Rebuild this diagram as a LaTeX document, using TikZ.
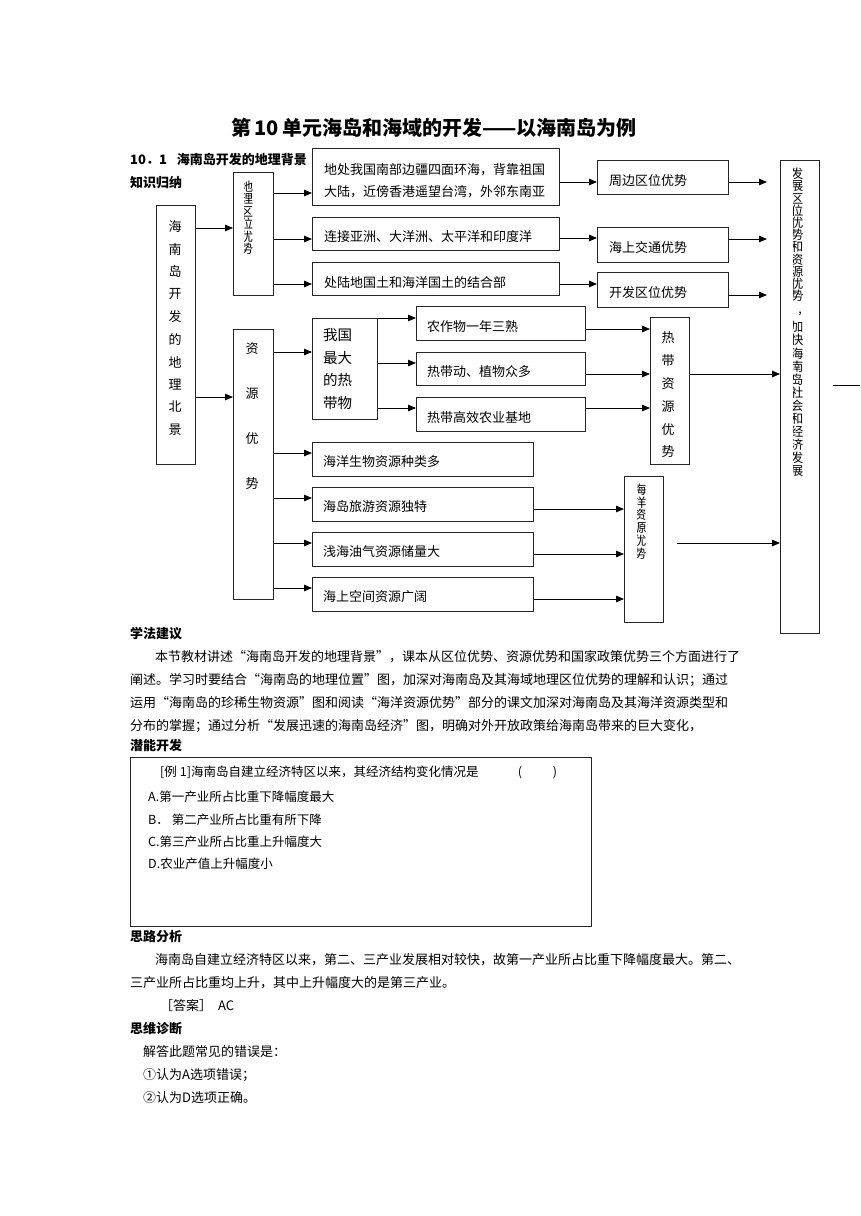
\documentclass[tikz,border=0pt]{standalone}
\usepackage{fontspec}
\setmainfont{Noto Sans CJK SC}
\usetikzlibrary{arrows.meta}
\begin{document}
\begin{tikzpicture}[x=1pt,y=-1pt,
  bx/.style={draw=black!85, line width=0.8pt, inner sep=0pt, anchor=north west},
  arr/.style={draw=black, line width=0.8pt, -{Triangle[length=8pt,width=6.5pt]}},
  ln/.style={draw=black, line width=0.8pt},
  tx/.style={font=\fontsize{13}{13}\selectfont, inner sep=0pt, anchor=west},
  hd/.style={font=\fontsize{13}{13}\selectfont\bfseries, inner sep=0pt, anchor=west},
  vc/.style={font=\fontsize{13}{13}\selectfont, inner sep=0pt},
  vs/.style={font=\fontsize{12.5}{12.5}\selectfont, inner sep=0pt},
]
\useasboundingbox (0,0) rectangle (860,1216);
\fill[white] (0,0) rectangle (860,1216);

% title and headings
\node[font=\fontsize{20}{20}\selectfont\bfseries, inner sep=0pt] (title) at (434,128) {第\hspace{3pt}10\hspace{3pt}单元海岛和海域的开发——以海南岛为例};
\node[hd] (h1) at (130,160) {10．1\hspace{10pt}海南岛开发的地理背景};
\node[hd] (h2) at (130,183) {知识归纳};

% boxes
\node[bx, minimum width=39pt, minimum height=259pt] (A) at (156,205) {};
\node[bx, minimum width=40pt, minimum height=123pt] (B) at (233,172) {};
\node[bx, minimum width=247pt, minimum height=57pt] (C1) at (312,148) {};
\node[bx, minimum width=247pt, minimum height=33pt] (C2) at (312,217) {};
\node[bx, minimum width=247pt, minimum height=33pt] (C3) at (312,262) {};
\node[bx, minimum width=131pt, minimum height=34pt] (D1) at (597,160) {};
\node[bx, minimum width=131pt, minimum height=35pt] (D2) at (597,227) {};
\node[bx, minimum width=131pt, minimum height=35pt] (D3) at (597,272) {};
\node[bx, minimum width=39pt, minimum height=473pt] (E) at (780,160) {};
\node[bx, minimum width=40pt, minimum height=270pt] (F) at (233,329) {};
\node[bx, minimum width=65pt, minimum height=101pt] (G) at (312,318) {};
\node[bx, minimum width=169pt, minimum height=34pt] (H1) at (416,306) {};
\node[bx, minimum width=169pt, minimum height=33pt] (H2) at (416,352) {};
\node[bx, minimum width=169pt, minimum height=34pt] (H3) at (416,397) {};
\node[bx, minimum width=39pt, minimum height=147pt] (I) at (650,317) {};
\node[bx, minimum width=221pt, minimum height=34pt] (J1) at (312,442) {};
\node[bx, minimum width=221pt, minimum height=34pt] (J2) at (312,487) {};
\node[bx, minimum width=221pt, minimum height=34pt] (J3) at (312,532) {};
\node[bx, minimum width=221pt, minimum height=34pt] (J4) at (312,577) {};
\node[bx, minimum width=39pt, minimum height=146pt] (K) at (624,476) {};
\node[bx, line width=1.2pt, minimum width=461pt, minimum height=169pt] (L) at (130,757) {};

% vertical texts
\foreach \c [count=\i from 0] in {海,南,岛,开,发,的,地,理,北,景}
  \node[vc] (a\i) at (175,227+22.5*\i) {\c};
\foreach \c [count=\i from 0] in {资,源,优,势}
  \node[vc] (f\i) at (252,349+45*\i) {\c};
\foreach \c [count=\i from 0] in {热,带,资,源,优,势}
  \node[vc] (i\i) at (668,338+22.8*\i) {\c};
\begin{scope}
  \clip (244.5,175) rectangle (272,293);
  \foreach \c [count=\i from 0] in {地,理,区,位,优,势}
    \node[vs] (b\i) at (246.8,186.5+12.5*\i) {\c};
\end{scope}
\begin{scope}
  \clip (637,479) rectangle (662,620);
  \foreach \c [count=\i from 0] in {海,洋,资,源,优,势}
    \node[vs] (k\i) at (640,489.5+12.8*\i) {\c};
\end{scope}
\begin{scope}
  \clip (793.5,162) rectangle (818,630);
  \foreach \c [count=\i from 0] in {发,展,区,位,优,势,和,资,源,优,势}
    \node[vs] (e\i) at (797,174+12.2*\i) {\c};
  \foreach \c [count=\i from 0] in {加,快,海,南,岛,社,会,和,经,济,发,展}
    \node[vs] (ee\i) at (797,327+13.1*\i) {\c};
\end{scope}
\node[vs] (ecomma) at (800,314) {,};

% box texts
\node[tx] (c1a) at (324,170) {地处我国南部边疆四面环海，背靠祖国};
\node[tx] (c1b) at (324,192) {大陆，近傍香港遥望台湾，外邻东南亚};
\node[tx] (c2t) at (324,237) {连接亚洲、大洋洲、太平洋和印度洋};
\node[tx] (c3t) at (324,283) {处陆地国土和海洋国土的结合部};
\node[tx] (d1t) at (609,181) {周边区位优势};
\node[tx] (d2t) at (609,248) {海上交通优势};
\node[tx] (d3t) at (609,293) {开发区位优势};
\node[tx] (h1t) at (427,327) {农作物一年三熟};
\node[tx] (h2t) at (427,372) {热带动、植物众多};
\node[tx] (h3t) at (427,418) {热带高效农业基地};
\node[tx] (j1t) at (323,462) {海洋生物资源种类多};
\node[tx] (j2t) at (323,507) {海岛旅游资源独特};
\node[tx] (j3t) at (323,552) {浅海油气资源储量大};
\node[tx] (j4t) at (323,597) {海上空间资源广阔};
\foreach \s [count=\i from 0] in {我国,最大,的热,带物}
  \node[tx, font=\fontsize{14.5}{14.5}\selectfont] (g\i) at (323,335+22.5*\i) {\s};

% connectors
\draw[arr] (A.east |- 0,228) -- (B.west |- 0,228);
\draw[arr] (A.east |- 0,397) -- (F.west |- 0,397);
\draw[arr] (B.east |- 0,193) -- (C1.west |- 0,193);
\draw[arr] (B.east |- 0,239) -- (C2.west |- 0,239);
\draw[arr] (B.east |- 0,284) -- (C3.west |- 0,284);
\draw[arr] (C1.east |- 0,182) -- (D1.west |- 0,182);
\draw[arr] (C2.east |- 0,238) -- (D2.west |- 0,238);
\draw[arr] (C3.east |- 0,284) -- (D3.west |- 0,284);
\draw[arr, shorten >=13pt] (D1.east |- 0,182) -- (E.west |- 0,182);
\draw[arr, shorten >=13pt] (D2.east |- 0,239) -- (E.west |- 0,239);
\draw[arr, shorten >=13pt] (D3.east |- 0,295) -- (E.west |- 0,295);
\draw[arr] (F.east |- 0,352) -- (G.west |- 0,352);
\draw[arr] (F.east |- 0,453) -- (J1.west |- 0,453);
\draw[arr] (F.east |- 0,498) -- (J2.west |- 0,498);
\draw[arr] (F.east |- 0,543) -- (J3.west |- 0,543);
\draw[arr] (F.east |- 0,588) -- (J4.west |- 0,588);
\draw[arr] (G.north east) -- (H1.west |- G.north east);
\draw[arr] (G.east |- 0,363) -- (H2.west |- 0,363);
\draw[arr] (G.east |- 0,408) -- (H3.west |- 0,408);
\draw[arr] (H1.east |- 0,329) -- (I.west |- 0,329);
\draw[arr] (H2.east |- 0,374) -- (I.west |- 0,374);
\draw[arr] (H3.east |- 0,408) -- (I.west |- 0,408);
\draw[arr] (I.east |- 0,374) -- (E.west |- 0,374);
\draw[arr] (J2.east |- 0,509) -- (K.west |- 0,509);
\draw[arr] (J3.east |- 0,554) -- (K.west |- 0,554);
\draw[arr] (J4.east |- 0,599) -- (K.west |- 0,599);
\draw[arr, shorten <=13pt] (K.east |- 0,543) -- (E.west |- 0,543);
\coordinate (rr) at (860,385);
\draw[ln, shorten <=13pt] (E.east |- rr) -- (rr);

% text section
\node[hd] (s1) at (130,634) {学法建议};
\node[tx] (p1) at (155,657) {本节教材讲述“海南岛开发的地理背景”，课本从区位优势、资源优势和国家政策优势三个方面进行了};
\node[tx] (p2) at (130,680) {阐述。学习时要结合“海南岛的地理位置”图，加深对海南岛及其海域地理区位优势的理解和认识；通过};
\node[tx] (p3) at (130,703) {运用“海南岛的珍稀生物资源”图和阅读“海洋资源优势”部分的课文加深对海南岛及其海洋资源类型和};
\node[tx] (p4) at (130,726) {分布的掌握；通过分析“发展迅速的海南岛经济”图，明确对外开放政策给海南岛带来的巨大变化，};
\node[hd] (s2) at (130,746) {潜能开发};
\node[tx, font=\fontsize{12.5}{12.5}\selectfont] (q0) at (160,772) {\hbox to 397pt{[例\hspace{3pt}1]海南岛自建立经济特区以来，其经济结构变化情况是\hfill(\hspace{31pt})}};
\node[tx, font=\fontsize{12.5}{12.5}\selectfont] (qa) at (148,797) {A.第一产业所占比重下降幅度最大};
\node[tx, font=\fontsize{12.5}{12.5}\selectfont] (qb) at (148,820) {B．\hspace{3pt}第二产业所占比重有所下降};
\node[tx, font=\fontsize{12.5}{12.5}\selectfont] (qc) at (148,842) {C.第三产业所占比重上升幅度大};
\node[tx, font=\fontsize{12.5}{12.5}\selectfont] (qd) at (148,864) {D.农业产值上升幅度小};
\node[hd] (s3) at (130,937) {思路分析};
\node[tx] (r1) at (155,960) {海南岛自建立经济特区以来，第二、三产业发展相对较快，故第一产业所占比重下降幅度最大。第二、};
\node[tx] (r2) at (130,983) {三产业所占比重均上升，其中上升幅度大的是第三产业。};
\node[tx] (r3) at (160,1006) {［答案］\hspace{6pt}AC};
\node[hd] (s4) at (130,1029) {思维诊断};
\node[tx] (t1) at (143,1052) {解答此题常见的错误是：};
\node[tx] (t2) at (143,1075) {①认为A选项错误；};
\node[tx] (t3) at (143,1098) {②认为D选项正确。};
\end{tikzpicture}
\end{document}
